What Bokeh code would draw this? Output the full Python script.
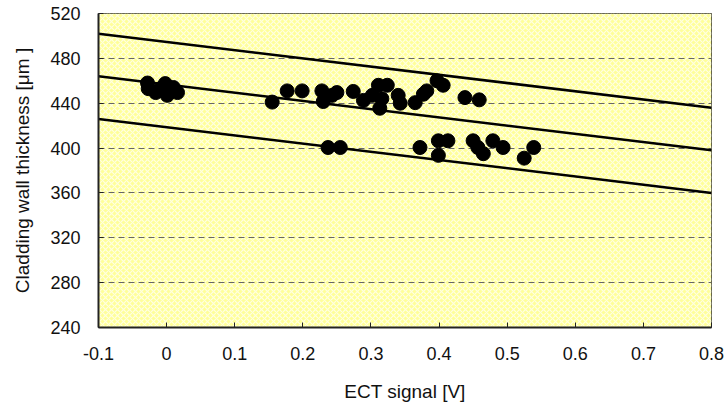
from bokeh.plotting import figure
from bokeh.models import FixedTicker, BoxAnnotation, Range1d
from bokeh.embed import file_html
from bokeh.resources import INLINE

# measured points: ECT signal [V] vs cladding wall thickness [um]
ect = [-0.028, -0.027, -0.016, -0.009, -0.002, 0.001, 0.010, 0.016,
       0.155, 0.177, 0.199, 0.228, 0.230, 0.243, 0.250, 0.274, 0.289,
       0.302, 0.311, 0.313, 0.316, 0.324, 0.340, 0.343, 0.365, 0.377,
       0.382, 0.397, 0.406, 0.438, 0.459,
       0.237, 0.255, 0.372, 0.399, 0.399, 0.413, 0.450, 0.457, 0.465,
       0.479, 0.494, 0.525, 0.539]
thick = [458, 453, 449.5, 453, 457.5, 447, 454, 449.5,
         441, 451, 451, 451, 441.5, 447, 449.5, 450.5, 442.5,
         447, 456, 435.5, 444, 456, 447, 440, 440.5, 448,
         451, 460, 456, 445, 443,
         400.5, 400.5, 400.5, 406.5, 393.5, 406.5, 406.5, 400.5, 395,
         406.5, 400.5, 391, 400.5]

# regression band lines
line_x = [-0.1, 0.8]
upper = [502, 436]
middle = [464, 398]
lower = [426, 360]

x_ticks = [-0.1, 0, 0.1, 0.2, 0.3, 0.4, 0.5, 0.6, 0.7, 0.8]
x_labels = ["-0.1", "0", "0.1", "0.2", "0.3", "0.4", "0.5", "0.6", "0.7", "0.8"]
y_ticks = [240, 280, 320, 360, 400, 440, 480, 520]

p = figure(width=725, height=407, output_backend="svg", toolbar_location=None,
           x_range=Range1d(-0.1, 0.8), y_range=Range1d(240, 520),
           min_border_left=98, min_border_right=14, min_border_top=13,
           min_border_bottom=80)
p.background_fill_color = "#FFFFB0"
p.border_fill_color = "white"
p.outline_line_color = "#333333"
p.outline_line_width = 1

bg = BoxAnnotation(fill_color="#FFFF99", fill_alpha=1.0, line_alpha=0,
                   hatch_pattern="diagonal_cross", hatch_color="white",
                   hatch_alpha=0.7, hatch_scale=6, hatch_weight=1.2,
                   level="image")
p.add_layout(bg)

p.xgrid.visible = False
p.ygrid.ticker = FixedTicker(ticks=y_ticks)
p.ygrid.grid_line_color = "#666666"
p.ygrid.grid_line_dash = "6 4"
p.ygrid.grid_line_width = 1
p.ygrid.level = "underlay"

for ax in (p.xaxis[0], p.yaxis[0]):
    ax.axis_line_color = "#222222"
    ax.axis_line_width = 2
    ax.major_tick_in = 5
    ax.major_tick_out = 0
    ax.major_tick_line_color = "#222222"
    ax.minor_tick_line_color = None
    ax.major_label_text_font = "Liberation Sans"
    ax.major_label_text_font_size = "18px"
    ax.major_label_text_color = "#111111"
    ax.axis_label_text_font = "Liberation Sans"
    ax.axis_label_text_font_size = "19px"
    ax.axis_label_text_font_style = "normal"
    ax.axis_label_text_color = "#111111"

p.xaxis.ticker = FixedTicker(ticks=x_ticks)
p.xaxis.major_label_overrides = {t: l for t, l in zip(x_ticks, x_labels)}
p.xaxis.major_label_standoff = 19
p.xaxis.axis_label = "ECT signal [V]"
p.xaxis.axis_label_standoff = 18

p.yaxis.ticker = FixedTicker(ticks=y_ticks)
p.yaxis.major_label_standoff = 18
p.yaxis.axis_label = "Cladding wall thickness [\u03bcm ]"
p.yaxis.axis_label_standoff = 14

for ys in (upper, middle, lower):
    p.line(line_x, ys, line_color="black", line_width=2.5)

p.scatter(ect, thick, size=14, marker="circle", fill_color="black",
          line_color="black")

open("out.html", "w").write(file_html(p, INLINE))
